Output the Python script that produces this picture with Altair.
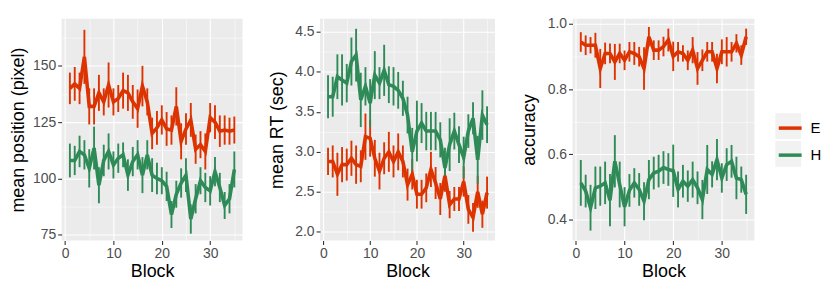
import altair as alt
import pandas as pd

blocks = list(range(1, 36))
groups = ["E", "H"]
colors = ["#DD3300", "#2E8B57"]

# Panel 1: mean position (pixel)
pos_E = [140, 142, 140, 154, 132, 132, 138, 134, 141.5, 134, 135.5, 139, 138, 134, 131,
         141, 134, 120, 122.5, 126, 122, 121.5, 132, 116.5, 122, 126, 113, 115, 112, 127,
         125, 121, 121.5, 121, 121.5]
pos_E_err = [7, 7.5, 7, 12, 8, 8, 8, 6, 10, 6, 6, 8, 8, 7.5, 8.5,
             9, 6, 7, 7.5, 6.5, 7.5, 6.5, 8.5, 8, 7, 7.5, 6.5, 6, 8, 6.5,
             7.5, 7, 6.5, 6, 6]
pos_H = [108, 108, 112, 110.5, 104.5, 113.5, 97, 108, 112, 106, 109, 110.5, 101.5, 107.5, 110.5,
         101.5, 110.5, 101.5, 100, 99, 96.5, 84, 93, 98, 101.5, 82, 91, 99, 96, 94.5,
         103, 96, 88, 91, 104]
pos_H_err = [7.5, 6.5, 7, 6.5, 8.5, 9.5, 8, 7, 8, 6, 6.5, 5.5, 7, 6.5, 6.5,
             8, 6.5, 7.5, 7, 6, 6.5, 6, 6, 6.5, 7.5, 6.5, 6.5, 6, 6.5, 6.5,
             6.5, 6.5, 6, 6.5, 8]

# Panel 2: mean RT (sec)
rt_E = [2.88, 2.88, 2.72, 2.84, 2.84, 2.92, 2.84, 2.82, 3.19, 3.17, 2.92, 2.76, 2.92, 3.0, 2.88,
        3.0, 2.88, 2.59, 2.72, 2.47, 2.47, 2.55, 2.78, 2.61, 2.41, 2.7, 2.34, 2.41, 2.41, 2.63,
        2.28, 2.18, 2.5, 2.22, 2.49]
rt_E_err = [0.17, 0.2, 0.27, 0.22, 0.2, 0.22, 0.24, 0.2, 0.29, 0.23, 0.23, 0.23, 0.2, 0.25, 0.2,
            0.23, 0.2, 0.2, 0.19, 0.18, 0.18, 0.18, 0.22, 0.2, 0.2, 0.2, 0.17, 0.15, 0.15, 0.19,
            0.18, 0.18, 0.2, 0.17, 0.2]
rt_H = [3.69, 3.69, 3.94, 3.9, 3.86, 4.13, 4.21, 3.65, 3.82, 3.61, 3.96, 3.86, 4.02, 3.84, 3.82,
        3.77, 3.67, 3.46, 3.0, 3.26, 3.36, 3.26, 3.26, 3.26, 3.15, 2.8, 3.09, 3.26, 3.09, 2.93,
        3.26, 3.42, 2.9, 3.46, 3.34]
rt_H_err = [0.27, 0.25, 0.28, 0.32, 0.24, 0.3, 0.33, 0.34, 0.24, 0.3, 0.3, 0.2, 0.32, 0.23, 0.24,
            0.23, 0.22, 0.23, 0.3, 0.38, 0.25, 0.24, 0.24, 0.24, 0.22, 0.25, 0.33, 0.23, 0.23, 0.26,
            0.21, 0.2, 0.3, 0.31, 0.23]

# Panel 3: accuracy
acc_E = [0.944, 0.934, 0.934, 0.934, 0.863, 0.909, 0.909, 0.883, 0.909, 0.888, 0.914, 0.909, 0.899, 0.863, 0.96,
         0.919, 0.919, 0.93, 0.95, 0.9, 0.914, 0.909, 0.888, 0.919, 0.863, 0.888, 0.914, 0.914, 0.863, 0.914,
         0.914, 0.914, 0.94, 0.904, 0.96]
acc_E_err = [0.03, 0.03, 0.025, 0.038, 0.06, 0.033, 0.03, 0.055, 0.03, 0.03, 0.03, 0.035, 0.03, 0.065, 0.03,
             0.03, 0.03, 0.03, 0.035, 0.045, 0.03, 0.025, 0.03, 0.04, 0.05, 0.033, 0.03, 0.03, 0.045, 0.038,
             0.045, 0.03, 0.028, 0.03, 0.025]
acc_H = [0.513, 0.488, 0.437, 0.498, 0.503, 0.513, 0.46, 0.579, 0.508, 0.44, 0.49, 0.513, 0.493, 0.457, 0.523,
         0.543, 0.549, 0.56, 0.554, 0.55, 0.493, 0.518, 0.503, 0.523, 0.498, 0.462, 0.554, 0.539, 0.584, 0.528,
         0.569, 0.579, 0.528, 0.523, 0.478]
acc_H_err = [0.07, 0.05, 0.07, 0.065, 0.06, 0.065, 0.08, 0.08, 0.07, 0.06, 0.05, 0.045, 0.05, 0.058, 0.06,
             0.05, 0.05, 0.05, 0.05, 0.08, 0.055, 0.05, 0.048, 0.055, 0.05, 0.06, 0.075, 0.04, 0.063, 0.045,
             0.05, 0.05, 0.065, 0.04, 0.06]

x_ticks = [0, 5, 10, 15, 20, 25, 30, 35]
key_ids = ["kE", "kH"]
FONT = "Liberation Sans"


def make_df(e, e_err, h, h_err):
    rows = []
    for g, k, m, s in (("E", key_ids[0], e, e_err), ("H", key_ids[1], h, h_err)):
        for b, mm, ss in zip(blocks, m, s):
            rows.append({"Block": b, "group": g, "key": k, "mean": mm, "lo": mm - ss, "hi": mm + ss})
    return pd.DataFrame(rows)


def grid_axis(values, test, fmt, title):
    return alt.Axis(
        values=values,
        title=title,
        format=fmt,
        labelExpr=f"({test}) ? datum.label : ''",
        gridWidth={"condition": {"test": test, "value": 1.1}, "value": 0.55},
        tickOpacity={"condition": {"test": test, "value": 1}, "value": 0},
    )


# legend positions are relative to the first panel's plot origin
color = alt.Color(
    "group:N",
    scale=alt.Scale(domain=groups, range=colors),
    legend=alt.Legend(
        title=None,
        orient="none",
        legendX=719.5,
        legendY=96.5,
        symbolType="stroke",
        symbolStrokeWidth=3.5,
        symbolSize=530,
        labelFontSize=15,
        labelFont=FONT,
        labelColor="#000000",
        labelOffset=7,
        rowPadding=5.2,
        padding=0,
        zindex=2,
    ),
)

# grey key backgrounds (ggplot legend.key)
key_bg = alt.Opacity(
    "key:N",
    scale=alt.Scale(domain=key_ids, range=[1, 1]),
    legend=alt.Legend(
        title=None,
        orient="none",
        legendX=718,
        legendY=95,
        symbolType="square",
        symbolSize=676,
        symbolFillColor="#F2F2F2",
        symbolStrokeColor="#F2F2F2",
        symbolStrokeWidth=0,
        labelExpr="''",
        labelOffset=0,
        rowPadding=2,
        padding=0,
        zindex=1,
    ),
)


def panel(df, ytitle, ydomain, yvalues, ytest, yfmt, width):
    xs = alt.Scale(domain=[-0.7, 36.7], nice=False, zero=False)
    ys = alt.Scale(domain=ydomain, nice=False, zero=False)
    xax = grid_axis(x_ticks, "datum.value % 10 === 0", "d", "Block")
    yax = grid_axis(yvalues, ytest, yfmt, ytitle)
    base = alt.Chart(df)
    err = base.mark_rule(strokeWidth=1.9).encode(
        x=alt.X("Block:Q", scale=xs, axis=xax),
        y=alt.Y("lo:Q", scale=ys, axis=yax),
        y2="hi:Q",
        color=color,
    )
    line = base.mark_line(strokeWidth=3.6).encode(
        x=alt.X("Block:Q", scale=xs, axis=xax),
        y=alt.Y("mean:Q", scale=ys, axis=yax),
        color=color,
        opacity=key_bg,
    )
    return alt.layer(err, line).properties(width=width, height=223)


p1 = panel(make_df(pos_E, pos_E_err, pos_H, pos_H_err), "mean position (pixel)",
           [72.5, 170.9], [75, 87.5, 100, 112.5, 125, 137.5, 150, 162.5],
           "datum.value % 25 === 0", "d", 182)
p2 = panel(make_df(rt_E, rt_E_err, rt_H, rt_H_err), "mean RT (sec)",
           [1.892, 4.665], [2.0, 2.25, 2.5, 2.75, 3.0, 3.25, 3.5, 3.75, 4.0, 4.25, 4.5],
           "abs(datum.value * 2 - round(datum.value * 2)) < 0.001", ".1f", 176)
p3 = panel(make_df(acc_E, acc_E_err, acc_H, acc_H_err), "accuracy",
           [0.337, 1.015], [0.4, 0.5, 0.6, 0.7, 0.8, 0.9, 1.0],
           "abs(datum.value * 5 - round(datum.value * 5)) < 0.001", ".1f", 183)

chart = (
    alt.hconcat(p1, p2, p3, spacing=26)
    .properties(padding={"left": 2, "top": 7, "right": 0, "bottom": 2})
    .configure_view(fill="#EBEBEB", stroke=None)
    .configure_axis(
        gridColor="#FFFFFF",
        domain=False,
        tickColor="#333333",
        tickSize=4,
        tickWidth=1.1,
        labelColor="#4D4D4D",
        labelFont=FONT,
        labelFontSize=14,
        labelPadding=2,
        titleFont=FONT,
        titleFontSize=18,
        titleFontWeight="normal",
        titleColor="#000000",
    )
    .configure_axisY(minExtent=31, maxExtent=31, titlePadding=3)
    .configure_axisX(titlePadding=2)
)

chart.save("out.html", embed_options={"renderer": "svg", "actions": False})
